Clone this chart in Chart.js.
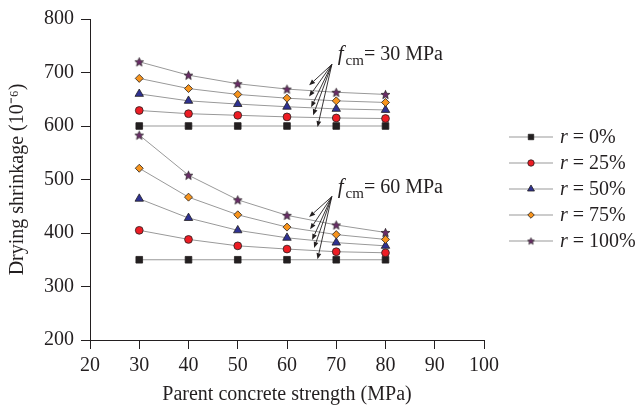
<!DOCTYPE html>
<html>
<head>
<meta charset="utf-8">
<script src="https://cdn.jsdelivr.net/npm/chart.js@4.4.0/dist/chart.umd.min.js"></script>
<style>
  html, body { margin: 0; padding: 0; background: #ffffff; }
  #wrap { width: 640px; height: 410px; }
</style>
</head>
<body>
<div id="wrap"><canvas id="c" width="640" height="410"></canvas></div>
<script>
// ---- Data ----
const strength = [30, 40, 50, 60, 70, 80];           // parent concrete strength (MPa)
const rLabels = ['0%', '25%', '50%', '75%', '100%'];  // replacement ratio r
const xTicks = [20, 30, 40, 50, 60, 70, 80, 90, 100];
const yTicks = [200, 300, 400, 500, 600, 700, 800];

// f_cm = 30 MPa
const fcm30_r0   = [600, 600, 600, 600, 600, 600];
const fcm30_r25  = [629, 623, 620, 617, 615, 614];
const fcm30_r50  = [660, 647, 641, 636, 632, 630];
const fcm30_r75  = [689, 670, 659, 652, 647, 644];
const fcm30_r100 = [720, 695, 679, 669, 663, 659];

// f_cm = 60 MPa
const fcm60_r0   = [350, 350, 350, 350, 350, 350];
const fcm60_r25  = [405, 388, 376, 370, 365, 363];
const fcm60_r50  = [464, 428, 405, 391, 382, 376];
const fcm60_r75  = [521, 467, 434, 411, 397, 388];
const fcm60_r100 = [583, 508, 462, 433, 415, 401];

const annotationTexts = ['30 MPa', '60 MPa'];

// ---- Styles ----
const markerFill = ['#231f20', '#ed1c24', '#2e3192', '#f7941d', '#6a2c68'];
const markerStyle = ['rect', 'circle', 'triangle', 'rectRot', 'star5'];
const markerRadius = [4.7, 3.9, 4.9, 4.0, 4.0];
const lineColor = '#999999';
const serif = "'Liberation Serif', 'Times New Roman', serif";

function makeStar(r, fill, stroke) {
  const s = Math.ceil(2 * r + 3);
  const cv = document.createElement('canvas');
  cv.width = s; cv.height = s;
  const g = cv.getContext('2d');
  const cx = s / 2, cy = s / 2 + r * 0.1;
  g.beginPath();
  for (let i = 0; i < 10; i++) {
    const rr = i % 2 === 0 ? r : r * 0.45;
    const a = -Math.PI / 2 + i * Math.PI / 5;
    const px = cx + rr * Math.cos(a), py = cy + rr * Math.sin(a);
    if (i === 0) g.moveTo(px, py); else g.lineTo(px, py);
  }
  g.closePath();
  g.fillStyle = fill; g.fill();
  g.lineWidth = 0.7; g.strokeStyle = stroke; g.stroke();
  return cv;
}

const starBig = makeStar(markerRadius[4] + 0.6, markerFill[4], '#231f20');
const starSmall = makeStar(3.6, markerFill[4], '#231f20');

const groups = [
  [fcm30_r0, fcm30_r25, fcm30_r50, fcm30_r75, fcm30_r100],
  [fcm60_r0, fcm60_r25, fcm60_r50, fcm60_r75, fcm60_r100]
];

const datasets = [];
groups.forEach((grp, gi) => {
  grp.forEach((vals, k) => {
    datasets.push({
      label: 'r = ' + rLabels[k],
      data: strength.map((x, i) => ({ x: x, y: vals[i] })),
      borderColor: lineColor,
      borderWidth: 1,
      backgroundColor: markerFill[k],
      pointBackgroundColor: markerFill[k],
      pointBorderColor: '#231f20',
      pointBorderWidth: 0.8,
      pointStyle: markerStyle[k] === 'star5' ? starBig : markerStyle[k],
      pointRadius: markerRadius[k],
      pointHoverRadius: markerRadius[k],
      tension: 0,
      fill: false,
      order: gi * 5 + (4 - k)
    });
  });
});

// annotation geometry in data coordinates (apex, text anchor, arrow tips)
const annotations = [
  { text: annotationTexts[0], textAt: [70.3, 724], apex: [69.1, 715],
    tips: [[64.5, 676], [64.5, 655], [64.9, 635], [65.3, 620], [66.2, 598]] },
  { text: annotationTexts[1], textAt: [70.3, 474], apex: [69.1, 468],
    tips: [[64.5, 430], [64.7, 407], [65.1, 387], [65.5, 372], [66.2, 351]] }
];

const annotationPlugin = {
  id: 'fcmAnnotations',
  afterDatasetsDraw(chart) {
    const ctx = chart.ctx, xs = chart.scales.x, ys = chart.scales.y;
    ctx.save();
    annotations.forEach(a => {
      const ax = xs.getPixelForValue(a.apex[0]), ay = ys.getPixelForValue(a.apex[1]);
      ctx.strokeStyle = '#231f20';
      ctx.fillStyle = '#231f20';
      ctx.lineWidth = 0.9;
      a.tips.forEach(t => {
        const tx = xs.getPixelForValue(t[0]), ty = ys.getPixelForValue(t[1]);
        const ang = Math.atan2(ty - ay, tx - ax);
        const len = 6, w = 2.4;
        const bx = tx - len * Math.cos(ang), by = ty - len * Math.sin(ang);
        ctx.beginPath();
        ctx.moveTo(ax, ay); ctx.lineTo(bx, by); ctx.stroke();
        ctx.beginPath();
        ctx.moveTo(tx, ty);
        ctx.lineTo(bx + w * Math.sin(ang), by - w * Math.cos(ang));
        ctx.lineTo(bx - w * Math.sin(ang), by + w * Math.cos(ang));
        ctx.closePath(); ctx.fill();
      });
      // text: f_cm = xx MPa
      let px = xs.getPixelForValue(a.textAt[0]);
      const py = ys.getPixelForValue(a.textAt[1]);
      ctx.textBaseline = 'alphabetic';
      ctx.textAlign = 'left';
      ctx.font = 'italic 21px ' + serif;
      ctx.fillText('f', px, py);
      px += ctx.measureText('f').width + 2;
      ctx.font = '15px ' + serif;
      ctx.fillText('cm', px, py + 5);
      px += ctx.measureText('cm').width;
      ctx.font = '20px ' + serif;
      ctx.fillText('= ' + a.text, px, py);
    });
    ctx.restore();
  }
};

const legendPlugin = {
  id: 'customLegend',
  afterDraw(chart) {
    const ctx = chart.ctx, area = chart.chartArea;
    const x0 = area.right + 25, lineLen = 44, rowH = 26, y0 = 137;
    ctx.save();
    rLabels.forEach((lab, k) => {
      const y = y0 + k * rowH;
      ctx.strokeStyle = lineColor; ctx.lineWidth = 1;
      ctx.beginPath(); ctx.moveTo(x0, y); ctx.lineTo(x0 + lineLen, y); ctx.stroke();
      const mx = x0 + lineLen / 2;
      const opts = { pointStyle: markerStyle[k] === 'star5' ? starSmall : markerStyle[k],
                     radius: markerRadius[k] * 0.82, rotation: 0,
                     borderWidth: 0.8 };
      ctx.fillStyle = markerFill[k]; ctx.strokeStyle = '#231f20'; ctx.lineWidth = 0.8;
      Chart.helpers.drawPoint(ctx, opts, mx, y);
      ctx.fillStyle = '#231f20';
      ctx.textBaseline = 'middle'; ctx.textAlign = 'left';
      let tx = x0 + lineLen + 7;
      ctx.font = 'italic 20px ' + serif;
      ctx.fillText('r', tx, y + 1);
      tx += ctx.measureText('r').width + 5;
      ctx.font = '20px ' + serif;
      ctx.fillText('= ' + lab, tx, y + 1);
    });
    ctx.restore();
  }
};

Chart.defaults.font.family = serif;
Chart.defaults.color = '#231f20';

new Chart(document.getElementById('c'), {
  type: 'line',
  data: { datasets: datasets },
  options: {
    responsive: false,
    animation: false,
    layout: { padding: { top: 16, right: 156, left: 0, bottom: 0 } },
    plugins: { legend: { display: false }, tooltip: { enabled: false } },
    scales: {
      x: {
        type: 'linear', min: 20, max: 100,
        afterBuildTicks: s => { s.ticks = xTicks.map(v => ({ value: v })); },
        afterFit: s => { s.height = 70; },
        ticks: { font: { size: 20 }, padding: 5, color: '#231f20', maxRotation: 0 },
        grid: { drawOnChartArea: false, drawTicks: true, tickLength: 9, color: '#231f20', tickWidth: 1 },
        border: { color: '#231f20', width: 1 },
        title: { display: true, text: 'Parent concrete strength (MPa)', font: { size: 20 }, color: '#231f20', padding: { top: 4, bottom: 3 } }
      },
      y: {
        min: 200, max: 800,
        afterBuildTicks: s => { s.ticks = yTicks.map(v => ({ value: v })); },
        afterFit: s => { s.width = 90; },
        ticks: { font: { size: 20 }, padding: 7, color: '#231f20' },
        grid: { drawOnChartArea: false, drawTicks: true, tickLength: 9, color: '#231f20', tickWidth: 1 },
        border: { color: '#231f20', width: 1 },
        title: { display: true, text: 'Drying shrinkage (10\u207B\u2076)', font: { size: 20 }, color: '#231f20', padding: { top: 6, bottom: 0 } }
      }
    }
  },
  plugins: [annotationPlugin, legendPlugin]
});
</script>
</body>
</html>
